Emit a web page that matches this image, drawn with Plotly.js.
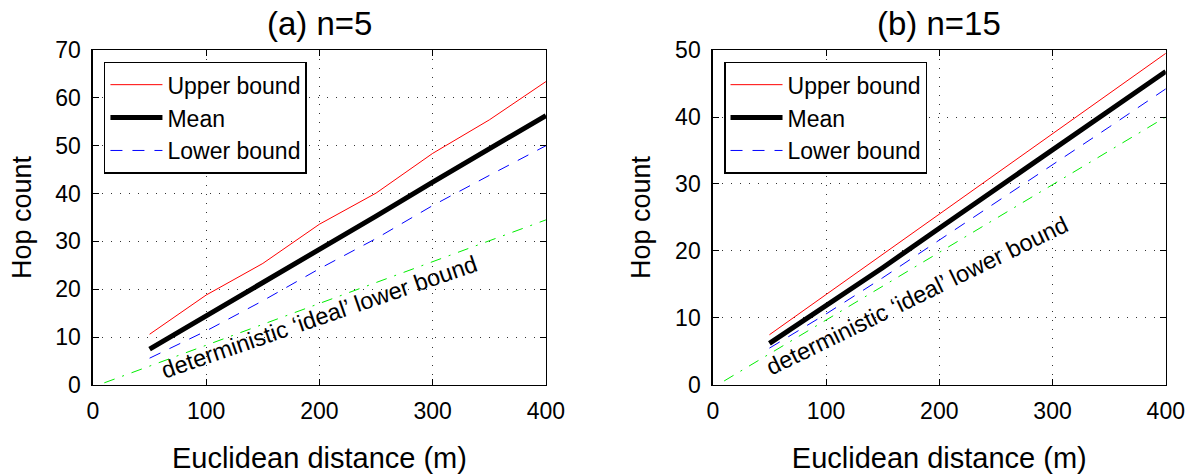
<!DOCTYPE html>
<html>
<head>
<meta charset="utf-8">
<script src="https://cdn.plot.ly/plotly-3.0.1.min.js"></script>
<style>html,body{margin:0;padding:0;background:#fff;}#chart{width:1192px;height:474px;}</style>
</head>
<body>
<div id="chart"></div>
<script>
// ---- data ----
const distance = [50, 100, 150, 200, 250, 300, 350, 400];
const idealDistance = [10, 400];

// (a) n=5
const upperA = [10.6, 18.8, 25.4, 33.6, 40.1, 48.4, 55.4, 63.4];
const meanA  = [7.5, 14.4, 21.4, 28.3, 35.3, 42.4, 49.4, 56.3];
const lowerA = [5.6, 11.3, 17.6, 24.3, 30.6, 37.5, 43.8, 50.0];
const idealA = [0.45, 34.5];

// (b) n=15
const upperB = [7.5, 13.5, 19.5, 25.5, 31.5, 37.4, 43.4, 49.5];
const meanB  = [6.2, 11.8, 17.5, 23.4, 29.2, 35.1, 41.0, 46.8];
const lowerB = [5.5, 10.6, 16.0, 21.6, 27.2, 32.9, 38.5, 44.2];
const idealB = [0.6, 40.0];

const panelTitles = ['(a) n=5', '(b) n=15'];
const xTicks = [0, 100, 200, 300, 400];
const yTicksA = [0, 10, 20, 30, 40, 50, 60, 70];
const yTicksB = [0, 10, 20, 30, 40, 50];
const annotText = 'deterministic \u2018ideal\u2019 lower bound';

// ---- styling ----
const FONT = 'Liberation Sans, Arial, Helvetica, sans-serif';
const styles = {
  upper: {color: '#ff0000', width: 1, dash: 'solid'},
  mean:  {color: '#000000', width: 5, dash: 'solid'},
  lower: {color: '#0000ff', width: 1, dash: '12px,10px'},
  ideal: {color: '#00ee00', width: 1, dash: '11px,8px,2px,8px'}
};

function mk(x, y, name, st, xa, ya, leg, show) {
  return {x: x, y: y, type: 'scatter', mode: 'lines', name: name,
          line: st, xaxis: xa, yaxis: ya, legend: leg, showlegend: show,
          hoverinfo: 'skip'};
}

const traces = [
  mk(distance, upperA, 'Upper bound', styles.upper, 'x', 'y', 'legend', true),
  mk(distance, meanA, 'Mean', styles.mean, 'x', 'y', 'legend', true),
  mk(distance, lowerA, 'Lower bound', styles.lower, 'x', 'y', 'legend', true),
  mk(idealDistance, idealA, 'ideal', styles.ideal, 'x', 'y', 'legend', false),
  mk(distance, upperB, 'Upper bound', styles.upper, 'x2', 'y2', 'legend2', true),
  mk(distance, meanB, 'Mean', styles.mean, 'x2', 'y2', 'legend2', true),
  mk(distance, lowerB, 'Lower bound', styles.lower, 'x2', 'y2', 'legend2', true),
  mk(idealDistance, idealB, 'ideal', styles.ideal, 'x2', 'y2', 'legend2', false)
];

function axisBase(extra) {
  return Object.assign({
    showline: true, linecolor: '#000', linewidth: 1.5, mirror: 'ticks',
    ticks: 'inside', ticklen: 6, tickwidth: 1, tickcolor: '#000',
    showgrid: true, gridcolor: '#333', gridwidth: 1, griddash: '1px,8px',
    zeroline: false, tickfont: {family: FONT, size: 23, color: '#000'},
    fixedrange: true
  }, extra);
}

const yDom = [0.1878, 0.8945];
const legendBase = {
  bgcolor: '#fff', bordercolor: '#000', borderwidth: 1.5,
  font: {family: FONT, size: 23, color: '#000'},
  xanchor: 'left', yanchor: 'top', itemwidth: 52, tracegroupgap: 0
};

const layout = {
  width: 1192, height: 474,
  margin: {l: 0, r: 0, t: 0, b: 0},
  paper_bgcolor: '#fff', plot_bgcolor: '#fff',
  font: {family: FONT, color: '#000'},
  xaxis: axisBase({domain: [0.078, 0.458], range: [0, 400], tickvals: xTicks, anchor: 'y',
    ticklabelstandoff: 5,
    title: {text: 'Euclidean distance (m)', font: {family: FONT, size: 29, color: '#000'}, standoff: 24}}),
  yaxis: axisBase({domain: yDom, range: [0, 70], tickvals: yTicksA, anchor: 'x',
    ticklabelstandoff: 6,
    title: {text: 'Hop count', font: {family: FONT, size: 27, color: '#000'}, standoff: 16}}),
  xaxis2: axisBase({domain: [0.598, 0.978], range: [0, 400], tickvals: xTicks, anchor: 'y2',
    ticklabelstandoff: 5,
    title: {text: 'Euclidean distance (m)', font: {family: FONT, size: 29, color: '#000'}, standoff: 24}}),
  yaxis2: axisBase({domain: yDom, range: [0, 50], tickvals: yTicksB, anchor: 'x2',
    ticklabelstandoff: 6,
    title: {text: 'Hop count', font: {family: FONT, size: 27, color: '#000'}, standoff: 16}}),
  legend: Object.assign({x: 0.0872, y: 0.8698}, legendBase),
  legend2: Object.assign({x: 0.6074, y: 0.8698}, legendBase),
  annotations: [
    {text: panelTitles[0], xref: 'x domain', yref: 'paper', x: 0.5, y: 0.951,
     xanchor: 'center', yanchor: 'middle', showarrow: false,
     font: {family: FONT, size: 33, color: '#000'}},
    {text: panelTitles[1], xref: 'x2 domain', yref: 'paper', x: 0.5, y: 0.951,
     xanchor: 'center', yanchor: 'middle', showarrow: false,
     font: {family: FONT, size: 33, color: '#000'}},
    {text: annotText, xref: 'x', yref: 'y', x: 200, y: 14.3, textangle: -19,
     showarrow: false, xanchor: 'center', yanchor: 'middle',
     font: {family: FONT, size: 23.5, color: '#000'}},
    {text: annotText, xref: 'x2', yref: 'y2', x: 180, y: 13.3, textangle: -26,
     showarrow: false, xanchor: 'center', yanchor: 'middle',
     font: {family: FONT, size: 23.5, color: '#000'}}
  ]
};

Plotly.newPlot('chart', traces, layout, {staticPlot: true, displayModeBar: false});
</script>
</body>
</html>
